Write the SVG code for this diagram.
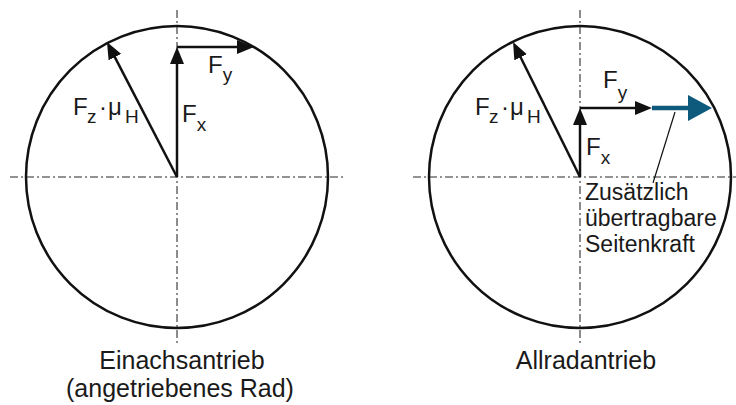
<svg xmlns="http://www.w3.org/2000/svg" width="736" height="405" viewBox="0 0 736 405">
<style>
text{font-family:"Liberation Sans",Arial,sans-serif;fill:#1a1a1a}
.axis{stroke:#707070;stroke-width:1.6;stroke-dasharray:8 3 2 3;fill:none}
.wheel{stroke:#111;stroke-width:2.5;fill:none}
.vec{stroke:#111;stroke-width:2.5;fill:none;marker-end:url(#ah)}
.big{font-size:24px}
.sub{font-size:19px}
.lbl{font-size:23px}
.cap{font-size:25px;text-anchor:middle}
</style>
<defs>
<marker id="ah" markerUnits="userSpaceOnUse" markerWidth="17" markerHeight="14" refX="7" refY="7" orient="auto">
<path d="M0,0 L17,7 L0,14 z" fill="#111"/>
</marker>
<marker id="ahb" markerUnits="userSpaceOnUse" markerWidth="24" markerHeight="26" refX="4" refY="13" orient="auto">
<path d="M0,0 L24,13 L0,26 z" fill="#0d5a7d"/>
</marker>
</defs>
<g id="wheel-left">
<line class="axis" x1="10" y1="177" x2="343" y2="177"/>
<line class="axis" x1="177" y1="10" x2="177" y2="343"/>
<circle class="wheel" cx="177" cy="177" r="151"/>
</g>
<g id="wheel-right">
<line class="axis" x1="413" y1="177" x2="736" y2="177"/>
<line class="axis" x1="580" y1="10" x2="580" y2="343"/>
<circle class="wheel" cx="580" cy="177" r="151"/>
</g>
<g id="connectors">
<line class="vec" x1="177" y1="177" x2="177" y2="57"/>
<line class="vec" x1="177" y1="47" x2="244" y2="47"/>
<line class="vec" x1="177" y1="177" x2="111.6" y2="50.9"/>
<line class="vec" x1="580" y1="177" x2="580" y2="118"/>
<line class="vec" x1="580" y1="108" x2="642" y2="108"/>
<line class="vec" x1="580" y1="177" x2="517.5" y2="51"/>
<line x1="652" y1="108" x2="692" y2="108" stroke="#0d5a7d" stroke-width="4.5" marker-end="url(#ahb)"/>
<line x1="675" y1="112" x2="653" y2="183" stroke="#111" stroke-width="1.2"/>
</g>
<g id="labels-left">
<text class="big" x="73" y="115">F<tspan class="sub" x="87" y="123">z</tspan><tspan x="99" y="115">·</tspan><tspan x="108" y="115">μ</tspan><tspan class="sub" x="125" y="123">H</tspan></text>
<text class="big" x="182" y="122">F<tspan class="sub" y="131">x</tspan></text>
<text class="big" x="208" y="73">F<tspan class="sub" y="81">y</tspan></text>
<text class="cap" x="182" y="369">Einachsantrieb</text>
<text class="cap" x="180" y="397">(angetriebenes Rad)</text>
</g>
<g id="labels-right">
<text class="big" x="475" y="115">F<tspan class="sub" x="489" y="123">z</tspan><tspan x="501" y="115">·</tspan><tspan x="510" y="115">μ</tspan><tspan class="sub" x="527" y="123">H</tspan></text>
<text class="big" x="586" y="155">F<tspan class="sub" y="164">x</tspan></text>
<text class="big" x="603" y="88">F<tspan class="sub" y="99">y</tspan></text>
<text class="lbl" x="585" y="200">Zusätzlich</text>
<text class="lbl" x="585" y="226">übertragbare</text>
<text class="lbl" x="585" y="252">Seitenkraft</text>
<text class="cap" x="586" y="369">Allradantrieb</text>
</g>
</svg>
